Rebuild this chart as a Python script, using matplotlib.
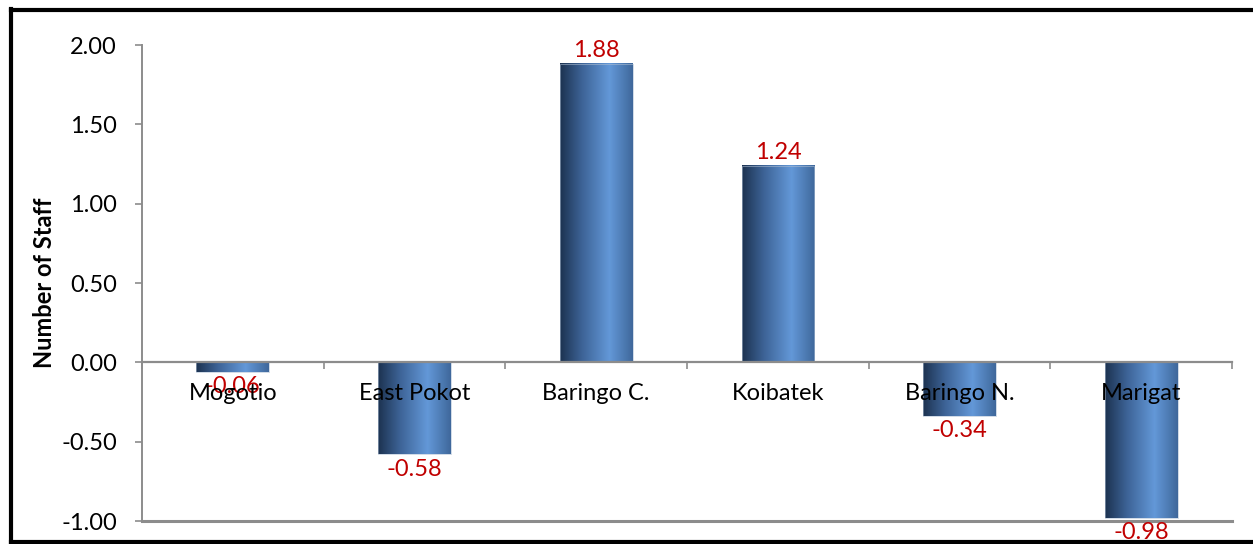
import matplotlib
matplotlib.use("Agg")
import matplotlib.pyplot as plt
import numpy as np
from matplotlib.colors import LinearSegmentedColormap
from matplotlib.lines import Line2D

plt.rcParams['font.family'] = ['Lato', 'DejaVu Sans']

# staff balance per sub-county
stations = ['Mogotio', 'East Pokot', 'Baringo C.', 'Koibatek', 'Baringo N.', 'Marigat']
staff = [-0.06, -0.58, 1.88, 1.24, -0.34, -0.98]

W, H = 1253, 544
fig = plt.figure(figsize=(W / 100, H / 100), dpi=100)
ax = fig.add_axes([142 / W, 23 / H, (1232 - 142) / W, (521 - 45) / H])

# bar shading, dark on the left, light towards the right
shade = LinearSegmentedColormap.from_list('bar', [
    (0.0, '#1c3250'), (0.3, '#3d6396'), (0.68, '#6398d8'), (1.0, '#3f689b')])
grad = np.linspace(0, 1, 256).reshape(1, -1)

x = np.arange(len(stations))
bw = 0.4
for xi, v in zip(x, staff):
    ax.imshow(grad, cmap=shade, aspect='auto', interpolation='bilinear',
              extent=(xi - bw / 2, xi + bw / 2, 0, v), zorder=2)
    ax.add_patch(plt.Rectangle((xi - bw / 2, 0), bw, v, fill=False,
                               edgecolor='#aebfd4', lw=0.4, zorder=3))
    if v >= 0:
        ax.annotate(f'{v:.2f}', (xi, v), xytext=(0, 2), textcoords='offset points',
                    ha='center', va='bottom', color='#c00000', fontsize=17, zorder=5)
    else:
        ax.annotate(f'{v:.2f}', (xi, v), xytext=(0, -3), textcoords='offset points',
                    ha='center', va='top', color='#c00000', fontsize=17, zorder=5)

ax.set_xlim(-0.5, len(stations) - 0.5)
ax.set_ylim(-1, 2)
ax.set_yticks(np.arange(-1, 2.01, 0.5))
ax.set_yticklabels([f'{t:.2f}' for t in np.arange(-1, 2.01, 0.5)])

# category axis sits on zero
ax.spines['bottom'].set_position(('data', 0))
ax.spines['bottom'].set_color('#8c8c8c')
ax.spines['bottom'].set_linewidth(1.6)
ax.spines['bottom'].set_zorder(4)
ax.spines['left'].set_color('#8c8c8c')
ax.spines['left'].set_linewidth(1.4)
ax.spines['top'].set_visible(False)
ax.spines['right'].set_visible(False)
ax.axhline(-1, color='#8c8c8c', lw=2.2, zorder=1, clip_on=False)

ax.set_xticks(np.arange(-0.5, len(stations), 1.0))
ax.set_xticklabels([])
ax.tick_params(axis='x', which='major', direction='out', length=5, width=1.2, color='#8c8c8c')
ax.set_xticks(x, minor=True)
ax.set_xticklabels(stations, minor=True)
ax.tick_params(axis='x', which='minor', length=0, pad=15, labelsize=17)
ax.xaxis.set_zorder(6)
ax.tick_params(axis='y', direction='out', length=5, width=1.2, color='#8c8c8c',
               pad=13, labelsize=17)

ax.set_ylabel('Number of Staff', fontsize=17, fontweight='bold')
ax.yaxis.set_label_coords(-0.079, 0.5)

# outer frame
for xs, ys in [((11 / W, 11 / W), (1 - 9 / H, 1 - 542 / H)),
               ((11 / W, 1), (1 - 9.5 / H, 1 - 9.5 / H)),
               ((11 / W, 1), (1 - 542 / H, 1 - 542 / H))]:
    fig.add_artist(Line2D(xs, ys, color='black', lw=3, transform=fig.transFigure))

fig.savefig('out.png', dpi=100)
